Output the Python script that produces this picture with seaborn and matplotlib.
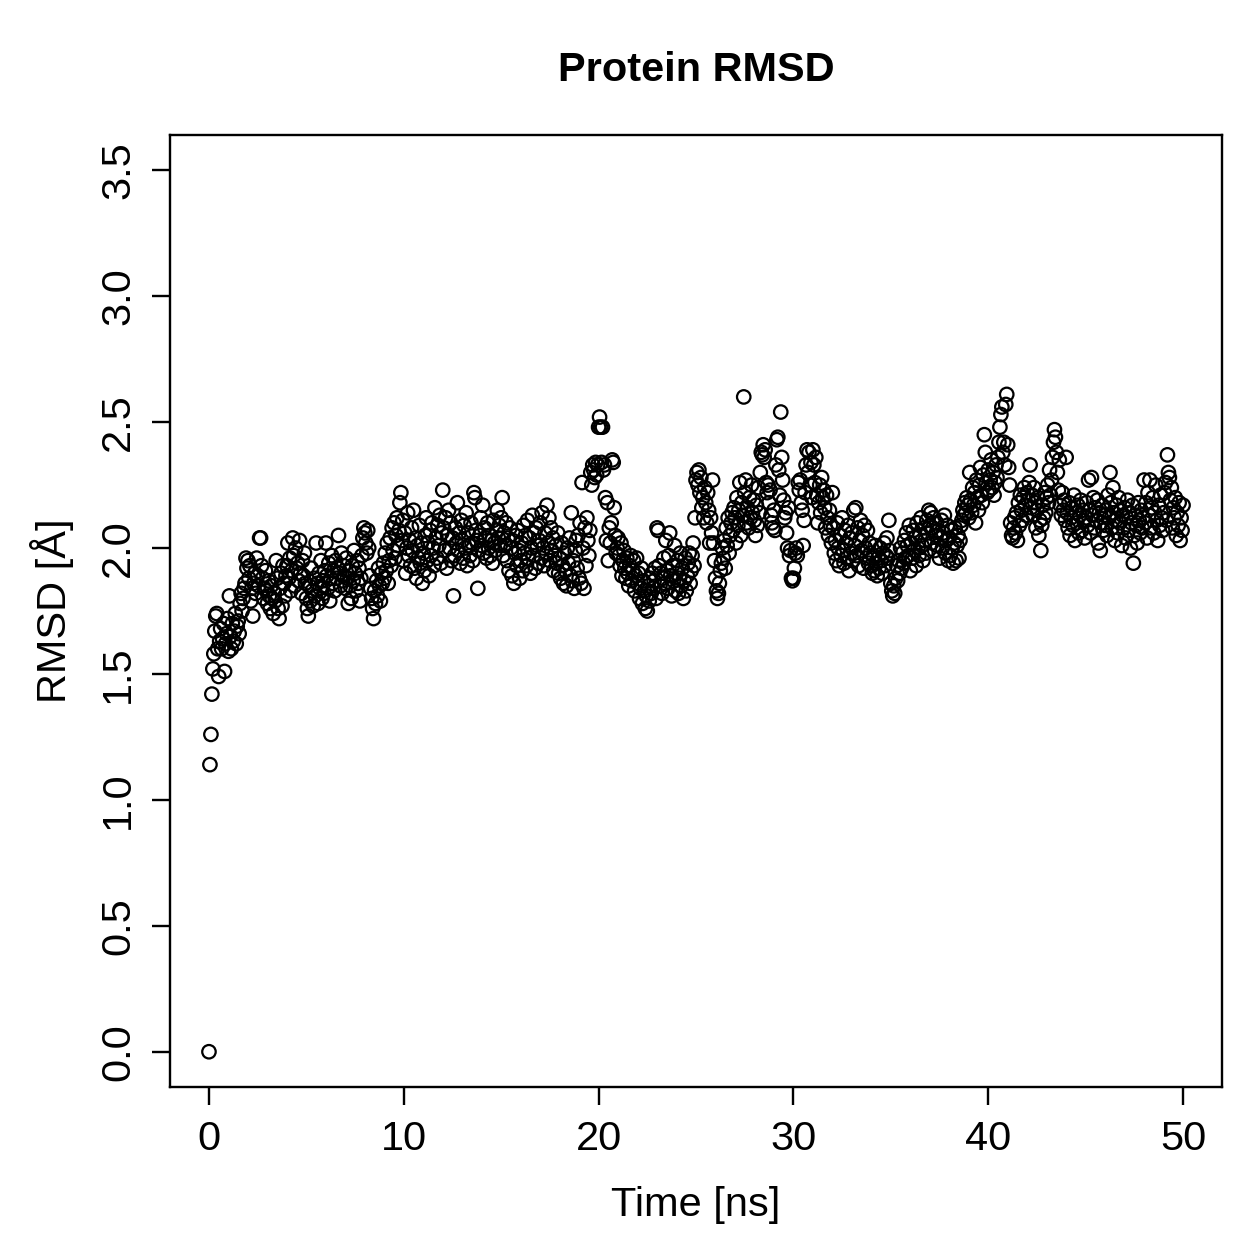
import numpy as np
import pandas as pd
import matplotlib
matplotlib.use("Agg")
import matplotlib.pyplot as plt
import seaborn as sns

# ---- data (RMSD in Angstrom, one value every 0.05 ns) ----
time_step_ns = 0.05

rmsd_00_05 = [
    0.00, 1.14, 1.26, 1.42, 1.52, 1.58, 1.67, 1.73, 1.74, 1.60, 1.49, 1.63, 1.68, 1.60, 1.64, 1.70, 1.51, 1.62, 1.66, 1.72,
    1.59, 1.81, 1.65, 1.60, 1.70, 1.63, 1.67, 1.74, 1.62, 1.69, 1.71, 1.66, 1.78, 1.82, 1.75, 1.80, 1.84, 1.86, 1.96, 1.92,
    1.95, 1.88, 1.93, 1.79, 1.84, 1.73, 1.86, 1.90, 1.82, 1.96, 1.89, 1.85, 2.04, 2.04, 1.93, 1.88, 1.80, 1.84, 1.91, 1.83,
    1.78, 1.87, 1.81, 1.76, 1.85, 1.80, 1.74, 1.82, 1.79, 1.95, 1.88, 1.76, 1.72, 1.84, 1.90, 1.77, 1.93, 1.86, 1.81, 1.89,
    1.93, 2.02, 1.88, 1.96, 1.83, 1.91, 2.04, 1.97, 1.85, 2.00, 1.92, 1.94, 1.87, 2.03, 1.90, 1.82, 1.95, 1.89, 1.98, 1.86,
]
rmsd_05_10 = [
    1.80, 1.76, 1.73, 1.85, 1.79, 1.92, 1.83, 1.77, 1.88, 1.81, 2.02, 1.86, 1.78, 1.90, 1.84, 1.95, 1.80, 1.87, 1.82, 1.91,
    2.02, 1.89, 1.84, 1.94, 1.79, 1.88, 1.97, 1.86, 1.91, 1.83, 1.95, 1.88, 1.92, 2.05, 1.90, 1.85, 1.98, 1.87, 1.93, 1.89,
    1.84, 1.96, 1.88, 1.78, 1.91, 1.85, 1.80, 1.93, 1.87, 1.99, 1.90, 1.83, 1.95, 1.86, 1.92, 1.79, 1.88, 1.97, 2.04, 2.08,
    2.06, 2.02, 1.98, 2.07, 2.00, 1.89, 1.84, 1.80, 1.76, 1.72, 1.83, 1.78, 1.87, 1.81, 1.92, 1.85, 1.79, 1.90, 1.86, 1.94,
    1.88, 1.98, 1.91, 2.02, 1.86, 1.95, 2.04, 1.93, 2.08, 1.99, 2.10, 1.96, 2.05, 2.12, 2.01, 2.07, 2.18, 2.22, 2.03, 2.11,
]
rmsd_10_15 = [
    1.95, 2.06, 1.90, 2.00, 2.14, 1.97, 2.03, 1.93, 2.08, 1.99, 2.15, 1.92, 2.04, 1.88, 2.01, 1.96, 2.09, 1.94, 2.02, 1.86,
    1.98, 1.91, 2.05, 2.12, 1.95, 2.02, 1.89, 2.07, 1.97, 2.10, 2.00, 1.93, 2.16, 2.04, 1.96, 2.09, 2.01, 2.13, 1.94, 2.06,
    2.23, 2.08, 1.99, 2.12, 1.92, 2.05, 2.15, 2.00, 2.10, 1.95, 2.04, 1.81, 1.97, 2.08, 2.02, 2.18, 1.99, 2.06, 1.94, 2.11,
    2.03, 1.96, 2.09, 2.00, 2.14, 1.93, 2.06, 2.01, 1.97, 2.10, 2.02, 1.95, 2.22, 2.20, 2.07, 2.03, 1.84, 1.99, 2.05, 2.12,
    2.01, 2.17, 1.98, 2.08, 2.04, 1.96, 2.10, 2.00, 2.05, 1.97, 2.03, 1.94, 2.11, 2.02, 1.99, 2.07, 2.15, 2.04, 2.09, 2.01,
]
rmsd_15_20 = [
    2.12, 2.20, 1.97, 2.06, 2.01, 2.10, 1.95, 2.04, 1.91, 2.08, 2.00, 1.89, 2.03, 1.86, 1.98, 2.05, 1.93, 2.07, 1.99, 1.88,
    1.95, 2.02, 1.91, 2.09, 1.98, 2.05, 1.93, 2.11, 1.96, 2.04, 1.90, 2.00, 2.13, 1.97, 2.06, 1.92, 2.08, 2.01, 1.94, 2.03,
    2.10, 1.96, 2.14, 2.00, 1.93, 2.06, 1.98, 2.17, 2.02, 2.12, 1.95, 2.08, 1.99, 2.04, 1.91, 1.97, 2.01, 1.94, 2.06, 1.90,
    1.96, 1.88, 2.02, 1.93, 1.86, 1.98, 1.91, 1.85, 2.00, 1.94, 2.04, 1.89, 2.14, 1.87, 1.95, 1.84, 1.99, 2.03, 1.92, 2.05,
    1.88, 2.10, 1.86, 2.26, 2.00, 1.84, 2.08, 1.93, 2.12, 2.03, 1.97, 2.07, 2.30, 2.25, 2.33, 2.31, 2.28, 2.34, 2.29, 2.33,
]
rmsd_20_25 = [
    2.48, 2.52, 2.48, 2.34, 2.48, 2.31, 2.33, 2.20, 2.03, 2.18, 1.95, 2.08, 2.02, 2.10, 2.35, 2.34, 2.16, 2.05, 1.98, 2.00,
    2.04, 1.97, 1.93, 2.02, 1.89, 1.95, 1.99, 1.92, 1.88, 1.96, 1.90, 1.85, 1.93, 1.97, 1.87, 1.91, 1.95, 1.83, 1.89, 1.96,
    1.86, 1.90, 1.80, 1.84, 1.92, 1.78, 1.87, 1.83, 1.76, 1.81, 1.75, 1.85, 1.79, 1.88, 1.82, 1.90, 1.84, 1.87, 1.92, 1.80,
    2.08, 2.07, 1.93, 1.85, 1.90, 1.82, 1.88, 1.96, 1.86, 2.03, 1.91, 1.84, 1.97, 2.06, 1.89, 1.81, 1.93, 1.87, 2.01, 1.83,
    1.90, 1.95, 1.82, 1.88, 1.98, 1.85, 1.92, 1.80, 1.87, 1.96, 1.83, 1.89, 1.94, 1.98, 1.86, 1.91, 1.97, 2.02, 1.93, 2.12,
]
rmsd_25_30 = [
    2.27, 2.30, 2.25, 2.31, 2.22, 2.28, 2.16, 2.20, 2.12, 2.24, 2.18, 2.10, 2.22, 2.15, 2.02, 2.12, 2.06, 2.27, 2.02, 1.95,
    1.88, 1.83, 1.80, 1.82, 1.86, 1.91, 1.94, 2.00, 1.96, 2.03, 1.92, 2.08, 2.01, 2.12, 1.98, 2.05, 2.10, 2.14, 2.07, 2.16,
    2.12, 2.02, 2.20, 2.09, 2.15, 2.26, 2.05, 2.18, 2.13, 2.60, 2.22, 2.27, 2.10, 2.16, 2.08, 2.20, 2.12, 2.25, 2.14, 2.19,
    2.11, 2.05, 2.17, 2.09, 2.24, 2.14, 2.30, 2.38, 2.37, 2.41, 2.36, 2.39, 2.26, 2.22, 2.25, 2.18, 2.23, 2.13, 2.10, 2.08,
    2.15, 2.07, 2.33, 2.43, 2.44, 2.31, 2.21, 2.54, 2.36, 2.27, 2.19, 2.12, 2.14, 2.06, 2.00, 2.16, 1.97, 1.99, 1.88, 1.87,
]
rmsd_30_35 = [
    1.88, 1.92, 1.98, 2.00, 1.97, 2.26, 2.23, 2.27, 2.18, 2.15, 2.01, 2.11, 2.22, 2.33, 2.39, 2.30, 2.38, 2.25, 2.34, 2.20,
    2.39, 2.33, 2.26, 2.36, 2.21, 2.10, 2.18, 2.25, 2.14, 2.28, 2.20, 2.23, 2.16, 2.08, 2.21, 2.12, 2.05, 2.15, 2.09, 2.02,
    2.22, 2.08, 1.98, 2.03, 1.95, 2.10, 2.00, 1.93, 2.05, 1.97, 2.12, 1.99, 1.94, 2.07, 2.02, 1.96, 2.09, 1.91, 2.04, 1.98,
    2.06, 1.95, 2.15, 2.01, 2.16, 1.97, 2.08, 1.93, 2.03, 2.11, 1.99, 2.05, 1.92, 2.09, 2.00, 1.96, 2.07, 1.94, 2.02, 1.98,
    1.93, 1.90, 1.97, 1.91, 2.01, 1.94, 1.89, 1.96, 1.92, 2.00, 1.95, 1.90, 1.98, 2.02, 1.93, 1.97, 2.04, 1.96, 2.11, 1.99,
]
rmsd_35_40 = [
    1.86, 1.83, 1.81, 1.85, 1.82, 1.88, 1.93, 1.87, 1.95, 1.90, 2.00, 1.92, 1.98, 1.94, 2.03, 1.96, 2.06, 2.01, 1.97, 2.09,
    1.91, 2.02, 1.96, 2.07, 1.99, 2.04, 1.93, 2.10, 2.00, 1.97, 2.05, 2.12, 2.01, 1.95, 2.08, 2.03, 1.98, 2.11, 2.06, 2.15,
    2.09, 2.14, 2.02, 2.08, 2.12, 1.99, 2.05, 2.10, 2.01, 2.07, 1.96, 2.04, 2.11, 2.00, 2.06, 2.13, 1.98, 2.03, 2.09, 1.95,
    2.04, 1.97, 2.07, 2.00, 1.94, 2.02, 2.08, 1.95, 2.01, 2.05, 1.96, 2.03, 2.09, 2.11, 2.15, 2.13, 2.18, 2.14, 2.20, 2.17,
    2.12, 2.30, 2.19, 2.14, 2.24, 2.17, 2.22, 2.10, 2.27, 2.20, 2.15, 2.25, 2.32, 2.21, 2.18, 2.29, 2.45, 2.38, 2.26, 2.22,
]
rmsd_40_45 = [
    2.31, 2.23, 2.27, 2.35, 2.24, 2.30, 2.21, 2.26, 2.33, 2.28, 2.36, 2.42, 2.48, 2.53, 2.56, 2.38, 2.42, 2.33, 2.57, 2.61,
    2.41, 2.32, 2.25, 2.10, 2.05, 2.04, 2.08, 2.12, 2.06, 2.14, 2.03, 2.18, 2.09, 2.21, 2.15, 2.11, 2.20, 2.24, 2.17, 2.13,
    2.22, 2.19, 2.26, 2.33, 2.16, 2.21, 2.13, 2.24, 2.18, 2.08, 2.15, 2.20, 2.05, 2.11, 1.99, 2.09, 2.17, 2.12, 2.22, 2.14,
    2.20, 2.25, 2.18, 2.31, 2.21, 2.27, 2.36, 2.42, 2.47, 2.44, 2.38, 2.30, 2.23, 2.35, 2.17, 2.13, 2.22, 2.15, 2.19, 2.11,
    2.36, 2.14, 2.08, 2.18, 2.05, 2.12, 2.16, 2.09, 2.21, 2.03, 2.14, 2.10, 2.17, 2.06, 2.13, 2.19, 2.07, 2.15, 2.11, 2.04,
]
rmsd_45_50 = [
    2.12, 2.18, 2.09, 2.27, 2.15, 2.06, 2.28, 2.13, 2.20, 2.08, 2.16, 2.11, 2.19, 2.02, 2.14, 1.99, 2.10, 2.17, 2.07, 2.13,
    2.09, 2.15, 2.05, 2.21, 2.12, 2.30, 2.18, 2.08, 2.24, 2.14, 2.03, 2.11, 2.17, 2.06, 2.20, 2.10, 2.15, 2.01, 2.13, 2.08,
    2.16, 2.04, 2.12, 2.19, 2.07, 2.14, 2.00, 2.10, 2.17, 1.94, 2.05, 2.13, 2.09, 2.02, 2.18, 2.11, 2.06, 2.15, 2.08, 2.12,
    2.27, 2.10, 2.18, 2.04, 2.22, 2.13, 2.27, 2.08, 2.16, 2.20, 2.06, 2.14, 2.25, 2.11, 2.03, 2.17, 2.09, 2.21, 2.12, 2.07,
    2.14, 2.22, 2.26, 2.11, 2.37, 2.30, 2.28, 2.19, 2.24, 2.08, 2.16, 2.12, 2.20, 2.05, 2.14, 2.09, 2.18, 2.03, 2.12, 2.07,
    2.17,
]

x_ticks = [0, 10, 20, 30, 40, 50]
y_ticks = [0.0, 0.5, 1.0, 1.5, 2.0, 2.5, 3.0, 3.5]
title_text = "Protein RMSD"
x_label = "Time [ns]"
y_label = "RMSD [Å]"

rmsd = (rmsd_00_05 + rmsd_05_10 + rmsd_10_15 + rmsd_15_20 + rmsd_20_25
        + rmsd_25_30 + rmsd_30_35 + rmsd_35_40 + rmsd_40_45 + rmsd_45_50)
time_ns = np.arange(len(rmsd)) * time_step_ns
df = pd.DataFrame({"time": time_ns, "rmsd": rmsd})

# ---- styling ----
sns.set_theme(style="ticks")
plt.rcParams["font.family"] = ["Liberation Sans", "DejaVu Sans"]

W = H = 1259
DPI = 180
FS = 16.6
LW = 0.95
fig = plt.figure(figsize=(W / DPI, H / DPI), dpi=DPI, facecolor="white")
ax = fig.add_axes([170 / W, 1 - 1087 / H, (1222 - 170) / W, (1087 - 135) / H])
ax.set_facecolor("white")

sns.scatterplot(data=df, x="time", y="rmsd", ax=ax, marker="o",
                s=29, linewidth=0.9, edgecolor="black", legend=False)
for coll in ax.collections:
    coll.set_facecolor("none")
    coll.set_edgecolor("black")

ax.set_xlim(-2, 52)
ax.set_ylim(-0.14, 3.64)
ax.set_xticks(x_ticks)
ax.set_xticklabels([str(t) for t in x_ticks])
ax.set_yticks(y_ticks)
ax.set_yticklabels([f"{t:.1f}" for t in y_ticks], rotation=90, va="center")

for sp in ax.spines.values():
    sp.set_visible(True)
    sp.set_color("black")
    sp.set_linewidth(LW)

ax.tick_params(axis="x", which="major", direction="out", length=7.2,
               width=LW, color="black", labelsize=FS, labelcolor="black", pad=6)
ax.tick_params(axis="y", which="major", direction="out", length=7.2,
               width=LW, color="black", labelsize=FS, labelcolor="black", pad=6)

ax.set_xlabel(x_label, fontsize=FS, color="black", labelpad=11)
ax.set_ylabel(y_label, fontsize=FS, color="black", labelpad=10)
fig.text((170 + 1222) / 2 / W, 1 - 70 / H, title_text, ha="center", va="center",
         fontsize=FS, fontweight="bold", color="black")

fig.savefig("out.png", dpi=DPI, facecolor="white")
